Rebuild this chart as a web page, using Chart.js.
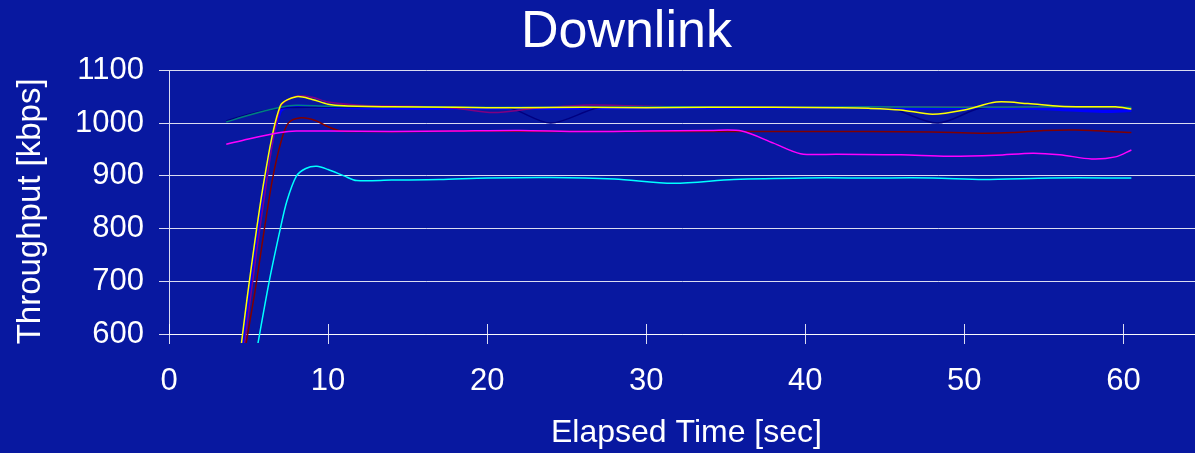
<!DOCTYPE html>
<html>
<head>
<meta charset="utf-8">
<title>Downlink</title>
<script src="https://cdn.jsdelivr.net/npm/chart.js@4.4.1/dist/chart.umd.min.js"></script>
<style>
    html, body { margin: 0; padding: 0; background: #0818A0; }
    canvas { display: block; }
</style>
</head>
<body>
<canvas id="downlinkChart" width="1195" height="453"></canvas>
<script>
// Dados (tempo em segundos, vazão em kbps)
const xTicks = [0, 10, 20, 30, 40, 50, 60];
const yTicks = [600, 700, 800, 900, 1000, 1100];

const yellowT = [4.3, 5, 6, 7, 8, 9, 10, 11, 14, 18, 22, 26, 30, 34, 38, 42, 44, 46, 48, 50, 52, 54, 56, 58, 59.5, 60.5];
const yellowV = [520, 688, 895, 1033, 1050, 1045, 1036, 1033, 1031, 1030, 1029, 1030, 1029, 1030, 1030, 1029, 1028, 1025, 1017, 1025, 1040, 1037, 1032, 1031, 1031, 1027];

const tealT = [3.6, 5, 7, 8, 10, 14, 20, 26, 32, 38, 44, 50, 56, 60.5];
const tealV = [1002, 1015, 1030, 1034, 1032, 1031, 1030, 1030, 1031, 1030, 1031, 1030, 1031, 1030];

const purpleT = [4.5, 5, 6, 7, 8, 9, 10, 12, 15, 18, 20.4, 23, 26, 29, 32, 36, 40, 44, 48, 52, 56, 60.5];
const purpleV = [520, 640, 860, 1030, 1051, 1049, 1040, 1034, 1032, 1028, 1020, 1028, 1034, 1033, 1031, 1031, 1030, 1031, 1031, 1030, 1031, 1029];

const navyT = [3.6, 5, 7, 9, 12, 16, 20, 21.5, 24, 27, 30, 35, 40, 44, 45.5, 48.3, 51, 54, 58, 60.5];
const navyV = [1004, 1017, 1028, 1030, 1030, 1030, 1030, 1028, 1000, 1029, 1030, 1030, 1030, 1030, 1027, 1000, 1028, 1030, 1030, 1030];

const blueT = [4.4, 5, 6, 7, 8, 10, 14, 18, 22, 26, 30, 34, 38, 42, 46, 50, 54, 56, 58.7, 60.5];
const blueV = [520, 670, 880, 1022, 1032, 1030, 1028, 1028, 1028, 1028, 1029, 1029, 1029, 1030, 1028, 1029, 1028, 1026, 1022, 1024];

const magentaT = [3.6, 5, 7, 8, 10, 14, 18, 22, 26, 30, 34, 36, 38, 39.7, 42, 46, 49, 52, 54.3, 56, 58, 59.5, 60.5];
const magentaV = [960, 970, 982, 985, 985, 984, 985, 986, 984, 985, 986, 985, 962, 942, 941, 940, 937, 939, 943, 940, 932, 936, 949];

const maroonT = [4.6, 5.4, 6, 6.5, 7, 7.5, 8.3, 9.2, 10, 10.8, 12, 16, 20, 24, 28, 32, 36, 40, 44, 48, 51, 53, 55, 57, 60.5];
const maroonV = [540, 680, 800, 893, 960, 1000, 1010, 1005, 993, 985, 984, 984, 985, 984, 984, 984, 984, 984, 984, 983, 981, 982, 986, 987, 982];

const cyanT = [5.4, 6.3, 7, 7.4, 8, 8.6, 9.3, 10, 11, 11.8, 14, 17, 20, 24, 28, 31.7, 35.5, 40, 44, 48, 51.2, 55.4, 60.5];
const cyanV = [550, 700, 800, 851, 899, 914, 918, 912, 900, 891, 892, 893, 896, 897, 894, 886, 893, 896, 896, 896, 893, 896, 896];

const gridColor = 'rgba(255, 255, 255, 0.85)';
const fontFamily = '"Liberation Sans", Arial, sans-serif';

// Junta tempos e valores em pontos {x, y}
function toPoints(times, values) {
    return times.map((t, i) => ({ x: t, y: values[i] }));
}

function makeSeries(times, values, color, width) {
    return {
        data: toPoints(times, values),
        borderColor: color,
        borderWidth: width || 1.5,
        pointRadius: 0,
        tension: 0.3,
        fill: false,
        clip: { left: 0, top: 0, right: 0, bottom: 9 }
    };
}

// Marcas do eixo X que atravessam a linha do eixo (como no Excel)
const crossTicks = {
    id: 'crossTicks',
    afterDraw(chart) {
        const xs = chart.scales.x;
        const ctx = chart.ctx;
        ctx.save();
        ctx.strokeStyle = gridColor;
        ctx.lineWidth = 1;
        xs.ticks.forEach(t => {
            const px = Math.round(xs.getPixelForValue(t.value)) + 0.5;
            ctx.beginPath();
            ctx.moveTo(px, xs.top - 10);
            ctx.lineTo(px, xs.top);
            ctx.stroke();
        });
        ctx.restore();
    }
};

const ctx = document.getElementById('downlinkChart').getContext('2d');

new Chart(ctx, {
    type: 'line',
    data: {
        datasets: [
            makeSeries(cyanT, cyanV, '#00FFFF'),
            makeSeries(magentaT, magentaV, '#FF00FF'),
            makeSeries(maroonT, maroonV, '#800000'),
            makeSeries(yellowT, yellowV, '#FFFF00'),
            makeSeries(tealT, tealV, '#008080'),
            makeSeries(purpleT, purpleV, '#800080'),
            makeSeries(navyT, navyV, '#000080'),
            makeSeries(blueT, blueV, '#0000FF', 3)
        ]
    },
    options: {
        responsive: false,
        animation: false,
        layout: { padding: 0 },
        plugins: {
            legend: { display: false },
            tooltip: { enabled: false },
            title: {
                display: true,
                // espaços à esquerda deslocam o título um pouco para a direita, como no original
                text: '    Downlink',
                color: '#FFFFFF',
                font: { family: fontFamily, size: 52, weight: 'normal', lineHeight: 1.2 },
                padding: { top: 1, bottom: 7 }
            }
        },
        scales: {
            x: {
                type: 'linear',
                min: 0,
                max: 64.5,
                afterBuildTicks: (scale) => {
                    scale.ticks = xTicks.map(v => ({ value: v }));
                },
                afterFit: (scale) => { scale.height = 453 - 334; },
                ticks: {
                    color: '#FFFFFF',
                    font: { family: fontFamily, size: 31 },
                    padding: 19,
                    maxRotation: 0
                },
                grid: {
                    drawOnChartArea: false,
                    drawTicks: true,
                    tickLength: 10,
                    color: gridColor
                },
                border: { color: gridColor },
                title: {
                    display: true,
                    text: ' Elapsed Time [sec]',
                    color: '#FFFFFF',
                    font: { family: fontFamily, size: 32 },
                    padding: { top: 1, bottom: 1 }
                }
            },
            y: {
                min: 600,
                max: 1100,
                afterBuildTicks: (scale) => {
                    scale.ticks = yTicks.map(v => ({ value: v }));
                },
                afterFit: (scale) => { scale.width = 169; },
                ticks: {
                    color: '#FFFFFF',
                    font: { family: fontFamily, size: 31 },
                    padding: 15,
                    callback: (value) => String(value)
                },
                grid: {
                    color: gridColor,
                    tickLength: 10
                },
                border: { color: gridColor },
                title: {
                    display: true,
                    text: 'Throughput [kbps]  ',
                    color: '#FFFFFF',
                    font: { family: fontFamily, size: 33 },
                    padding: { top: 11, bottom: 0 }
                }
            }
        }
    },
    plugins: [crossTicks]
});
</script>
</body>
</html>
